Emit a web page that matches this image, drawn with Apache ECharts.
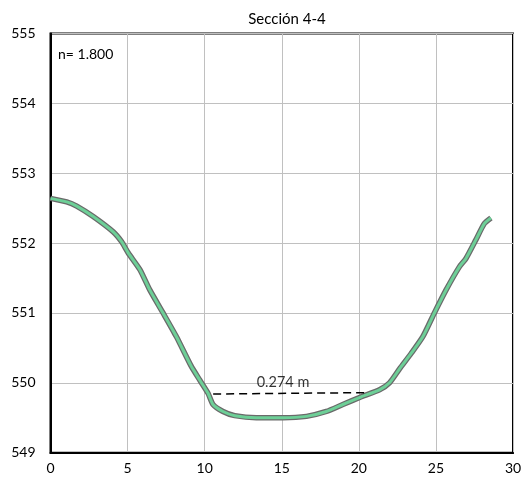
<!DOCTYPE html>
<html><head><meta charset="utf-8">
<script src="https://cdn.jsdelivr.net/npm/echarts@6/dist/echarts.min.js"></script>
<style>html,body{margin:0;padding:0;background:#fff}#c{width:526px;height:485px}</style>
</head><body><div id="c"></div>
<script>
const titleText = 'Sección 4-4';
const nText = 'n= 1.800';
const depthLabel = '0.274 m';
const xTicks = [0, 5, 10, 15, 20, 25, 30];
const yTicks = [549, 550, 551, 552, 553, 554, 555];
const curveX = [0, 1.05, 1.7, 2.77, 4.07, 4.61, 5.04, 5.8, 6.44, 7.3, 8.17, 9.1, 9.68, 10.22, 10.54, 11.19, 11.95, 13.35, 15.08, 16.6, 17.89, 18.96, 20.16, 21.34, 21.99, 22.64, 23.39, 24.15, 24.9, 25.66, 26.52, 26.95, 27.6, 28.14, 28.57];
const curveY = [552.64, 552.59, 552.53, 552.38, 552.16, 552.02, 551.86, 551.62, 551.33, 551.0, 550.66, 550.25, 550.04, 549.85, 549.69, 549.59, 549.53, 549.50, 549.50, 549.52, 549.59, 549.69, 549.8, 549.9, 550.0, 550.2, 550.42, 550.66, 551.0, 551.33, 551.66, 551.78, 552.05, 552.28, 552.36];
const waterX = [10.55, 20.58];
const waterY = [549.84, 549.86];
const labelPos = [15.08, 549.86];

const curve = curveX.map((x, i) => [x, curveY[i]]);
const water = waterX.map((x, i) => [x, waterY[i]]);
const font = 'Lato, "Noto Sans", sans-serif';

const chart = echarts.init(document.getElementById('c'));
chart.setOption({
  animation: false,
  backgroundColor: '#fff',
  title: { text: titleText, left: 282, top: 7, textAlign: 'center',
    textStyle: { fontFamily: font, fontSize: 15, fontWeight: 'normal', color: '#000' } },
  grid: { left: 50.5, right: 13, top: 33.5, bottom: 32.3, show: true, borderColor: '#000', borderWidth: 2 },
  xAxis: { type: 'value', min: xTicks[0], max: xTicks[xTicks.length-1], interval: 5,
    axisLine: { show: true, onZero: false, lineStyle: { color: '#000', width: 2 } },
    axisTick: { show: false },
    axisLabel: { color: '#000', fontFamily: font, fontSize: 14, margin: 9 },
    splitLine: { show: true, lineStyle: { color: '#c0c0c0', width: 1 } } },
  yAxis: { type: 'value', min: yTicks[0], max: yTicks[yTicks.length-1], interval: 1,
    axisLine: { show: true, onZero: false, lineStyle: { color: '#000', width: 2 } },
    axisTick: { show: false },
    axisLabel: { color: '#000', fontFamily: font, fontSize: 14, margin: 15 },
    splitLine: { show: true, lineStyle: { color: '#c0c0c0', width: 1 } } },
  graphic: [{ type: 'text', left: 58, top: 47,
    style: { text: nText, font: '14px ' + font, fill: '#000' } }],
  series: [
    { type: 'line', data: curve, showSymbol: false, smooth: 0.2, z: 3,
      lineStyle: { color: '#6a6a6a', width: 5.5 } },
    { type: 'line', data: curve, showSymbol: false, smooth: 0.2, z: 4,
      lineStyle: { color: '#6dcf97', width: 3 } },
    { type: 'line', data: water, showSymbol: false, z: 5,
      lineStyle: { color: '#000', width: 1.5, type: [8, 5] } },
    { type: 'scatter', data: [labelPos], symbolSize: 0, z: 6,
      label: { show: true, position: 'top', distance: 3, formatter: depthLabel,
        color: '#000', fontFamily: font, fontSize: 14.5 } }
  ]
});
</script></body></html>
